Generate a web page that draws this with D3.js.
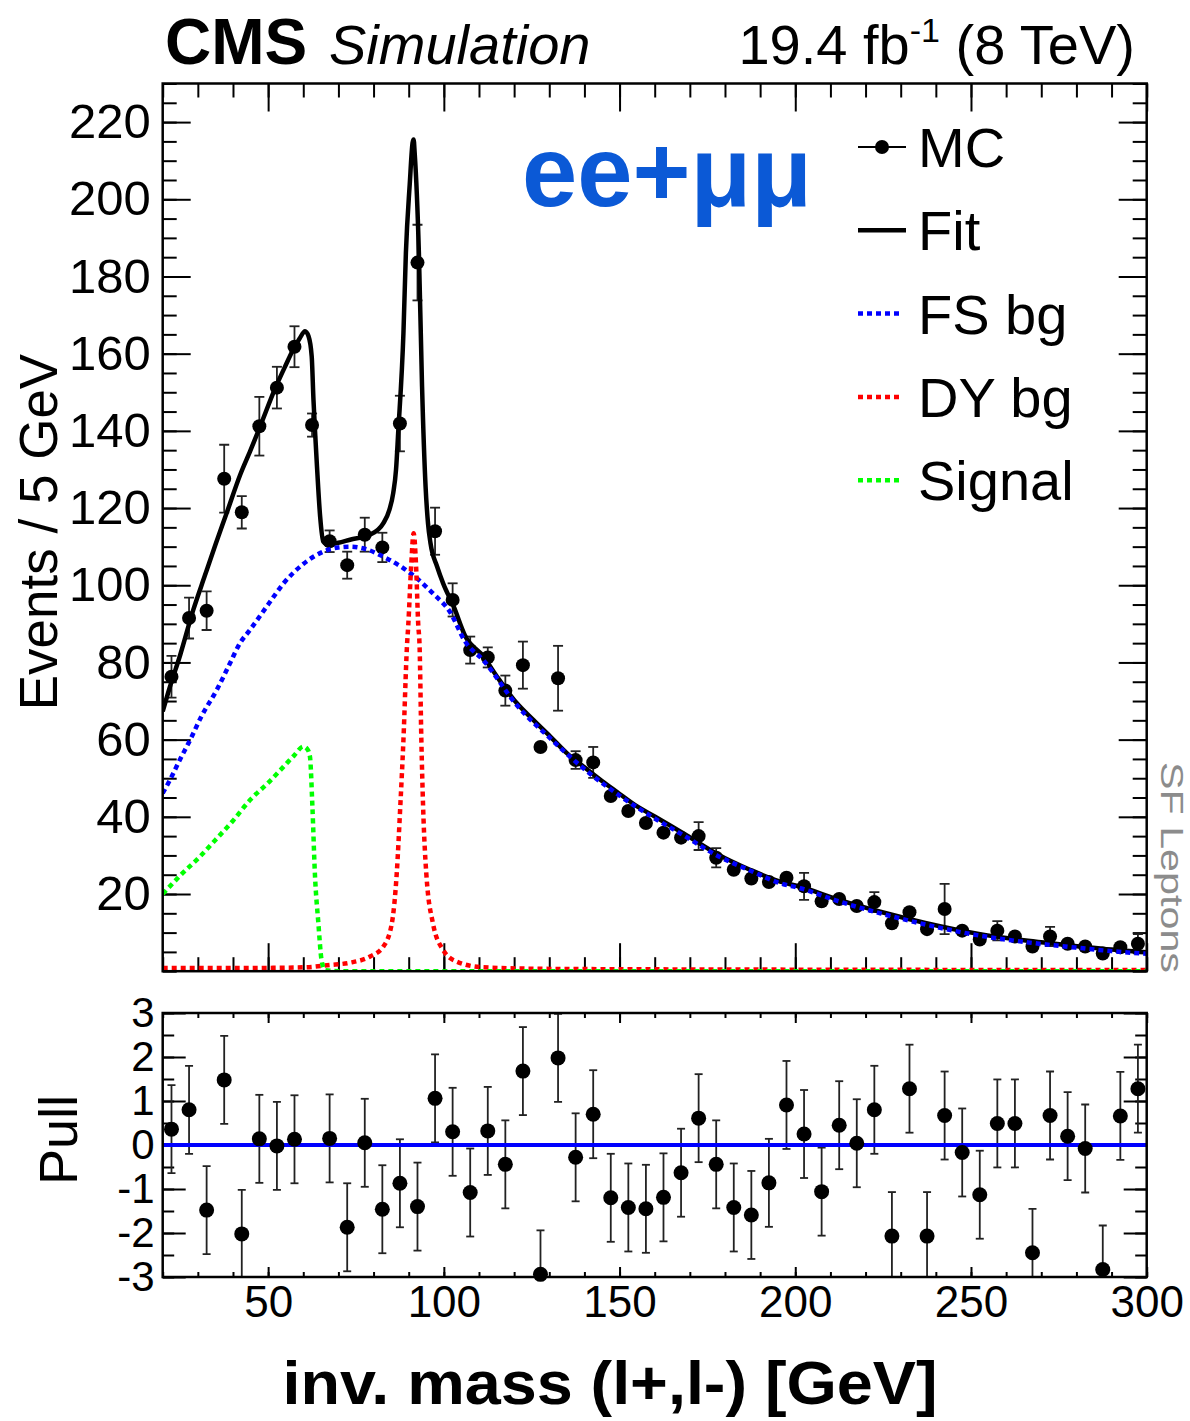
<!DOCTYPE html>
<html>
<head>
<meta charset="utf-8">
<script src="https://cdn.jsdelivr.net/npm/d3@7"></script>
<style>
  body { margin: 0; background: #fff; }
  svg text { font-family: "Liberation Sans", Arial, Helvetica, sans-serif; }
</style>
</head>
<body>
<svg id="chart" width="1190" height="1421"></svg>
<script>
// MC histogram, 5 GeV bins
const mcMass = [22.5, 27.5, 32.5, 37.5, 42.5, 47.5, 52.5, 57.5, 62.5, 67.5, 72.5, 77.5, 82.5, 87.5,
  92.5, 97.5, 102.5, 107.5, 112.5, 117.5, 122.5, 127.5, 132.5, 137.5, 142.5, 147.5, 152.5, 157.5,
  162.5, 167.5, 172.5, 177.5, 182.5, 187.5, 192.5, 197.5, 202.5, 207.5, 212.5, 217.5, 222.5, 227.5,
  232.5, 237.5, 242.5, 247.5, 252.5, 257.5, 262.5, 267.5, 272.5, 277.5, 282.5, 287.5, 292.5, 297.5];
const mcEvents = [76.3, 91.5, 93.4, 127.6, 118.9, 141.2, 151.2, 161.8, 141.5, 111.4, 105.2, 113.1, 109.8, 141.9,
  183.6, 114.0, 96.2, 83.2, 81.3, 72.7, 79.3, 58.1, 75.9, 54.7, 54.1, 45.4, 41.5, 38.4,
  35.9, 34.6, 35.0, 29.4, 26.3, 24.0, 23.1, 24.2, 22.0, 18.1, 18.7, 16.9, 17.9, 12.4,
  15.3, 10.9, 16.1, 10.5, 8.2, 10.5, 9.0, 6.4, 9.0, 7.1, 6.4, 4.6, 6.2, 7.1];
const mcErrors = [5.4, 5.3, 5.0, 8.8, 4.2, 7.6, 5.4, 5.3, 3.0, 2.8, 3.5, 4.4, 3.8, 7.2,
  9.8, 6.1, 4.3, 3.5, 2.6, 3.9, 6.1, 1.5, 8.4, 2.3, 4.0, 1.5, 1.5, 1.5,
  1.5, 1.5, 3.6, 2.5, 1.5, 1.5, 1.5, 1.8, 3.5, 1.5, 1.5, 1.5, 2.6, 1.5,
  1.5, 1.5, 6.5, 1.5, 1.5, 2.5, 1.5, 1.5, 2.5, 1.5, 1.5, 1.5, 1.5, 2.5];

// fit curves, sampled off the plot
const fitMass = [20, 22, 25, 28.7, 32, 35, 38.2, 42, 45, 47.7, 52, 55, 57.1, 59, 60.5, 61.5, 62.4, 62.9, 63.4,
  63.9, 64.8, 65.7, 67.1, 70, 73.3, 79, 82.8, 84.5, 85.6, 86.4, 87, 88.5, 89.2, 90.3, 91.1, 91.4, 91.7,
  92.9, 93.8, 94.8, 95.5, 96.2, 98.1, 99.8, 102.8, 106, 111.3, 115, 120.8, 125, 130.3, 135, 139.8, 145,
  149.2, 155, 160, 168.2, 177.7, 187.1, 195.7, 201.4, 212, 224.2, 237, 252.6, 265, 281.1, 290, 300];
const fitValue = [67.3, 73.5, 82, 93.6, 102.5, 110.5, 118.7, 128.5, 135, 141.1, 151, 157, 161, 164, 165.8, 164.5, 159.3, 148.1, 139,
  130.8, 117.8, 111.3, 110.5, 111, 111.8, 113.1, 116.1, 119.5, 123.9, 130, 139.4, 165.3, 186.1, 204, 214.6, 215.5, 212,
  186.1, 151.5, 125.6, 116, 110.9, 104.8, 100.5, 94.5, 87, 81.5, 76.5, 69.4, 65.5, 60.8, 56.5, 53, 49.3,
  46.5, 42.7, 40.1, 35.7, 30.4, 26.3, 23.2, 21.9, 18.6, 15.4, 12.5, 9.6, 8.0, 6.4, 5.6, 4.9];

const fsMass = [20, 22.1, 25, 27.8, 31, 35.4, 39, 42, 44.9, 50, 54.4, 60, 65.7, 70, 73.3, 78, 82.8, 87.5, 92.3,
  97, 101.8, 106, 111.3, 120.8, 130.3, 139.8, 149.2, 158.7, 168.2, 177.7, 187.1, 195.7, 201.4, 212, 224.2,
  237, 252.6, 265, 281.1, 290, 300];
const fsValue = [46.1, 49.6, 55, 59.9, 66, 72.9, 79.5, 85, 88.5, 95, 100.5, 105.5, 108.7, 109.8, 110, 109.3, 107.4, 105, 101.8,
  97.8, 93, 85.5, 80.5, 68.9, 60.3, 52.5, 46, 40.3, 35.2, 30, 26.1, 22.8, 21.5, 18.2, 15.0,
  12.1, 9.2, 7.6, 6.0, 5.2, 4.5];

const dyMass = [20, 40, 60, 67.5, 73.3, 79, 82.8, 85.2, 86.6, 87.6, 88.5, 89.5, 89.9, 90.7, 91.4, 92.1, 92.7,
  93.1, 93.6, 94.1, 95, 96.9, 99.8, 103.6, 111.2, 130, 200, 300];
const dyValue = [0.8, 0.8, 1.0, 1.6, 2.2, 3.8, 6.4, 12.4, 25.4, 42.6, 59.9, 84.1, 90, 105, 113.5, 105, 90,
  84.1, 59.9, 42.6, 25.4, 12.4, 5.5, 2.5, 1.0, 0.6, 0.4, 0.3];

const sigMass = [20, 25, 30.6, 35, 40, 44.9, 50, 54.4, 57.5, 60, 61.2, 61.9, 62.6, 63.3, 64.3, 65.2, 66.2, 70, 300];
const sigValue = [20, 24.8, 29.7, 34, 39, 44.4, 48.8, 53, 56, 58.2, 57.5, 55.6, 42.6, 25.4, 12.4, 2.9, 0.3, 0, 0];

// pulls (the 62.5 GeV bin is off scale)
const pullMass = [22.5, 27.5, 32.5, 37.5, 42.5, 47.5, 52.5, 57.5, 67.5, 72.5, 77.5, 82.5, 87.5,
  92.5, 97.5, 102.5, 107.5, 112.5, 117.5, 122.5, 127.5, 132.5, 137.5, 142.5, 147.5, 152.5, 157.5,
  162.5, 167.5, 172.5, 177.5, 182.5, 187.5, 192.5, 197.5, 202.5, 207.5, 212.5, 217.5, 222.5, 227.5,
  232.5, 237.5, 242.5, 247.5, 252.5, 257.5, 262.5, 267.5, 272.5, 277.5, 282.5, 287.5, 292.5, 297.5];
const pullValue = [0.36, 0.8, -1.48, 1.48, -2.02, 0.14, -0.02, 0.13, 0.15, -1.87, 0.05, -1.46, -0.87,
  -1.4, 1.06, 0.3, -1.08, 0.32, -0.44, 1.68, -2.94, 1.98, -0.28, 0.7, -1.2, -1.42, -1.45,
  -1.19, -0.63, 0.61, -0.44, -1.42, -1.59, -0.86, 0.91, 0.25, -1.06, 0.45, 0.04, 0.8, -2.07,
  1.28, -2.07, 0.67, -0.17, -1.13, 0.49, 0.49, -2.45, 0.67, 0.2, -0.08, -2.83, 0.66, 1.28];

const massTicks = [50, 100, 150, 200, 250, 300];
const eventTicks = [20, 40, 60, 80, 100, 120, 140, 160, 180, 200, 220];
const pullTicks = [-3, -2, -1, 0, 1, 2, 3];

const legendItems = [
  { label: "MC", kind: "marker" },
  { label: "Fit", kind: "line", color: "#000" },
  { label: "FS bg", kind: "dots", color: "#0000ff" },
  { label: "DY bg", kind: "dots", color: "#ff0000" },
  { label: "Signal", kind: "dots", color: "#00ff00" }
];

const svg = d3.select("#chart");

const left = 162.7, right = 1146.7;
const x = d3.scaleLinear().domain([20, 300]).range([left, right]);
const y = d3.scaleLinear().domain([0, 230]).range([971.2, 83.5]);
const yPull = d3.scaleLinear().domain([-3, 3]).range([1277, 1013]);

const defs = svg.append("defs");
defs.append("clipPath").attr("id", "clipTop").append("rect")
  .attr("x", left).attr("y", y(230)).attr("width", right - left).attr("height", y(0) - y(230));
defs.append("clipPath").attr("id", "clipPull").append("rect")
  .attr("x", left).attr("y", yPull(3)).attr("width", right - left).attr("height", yPull(-3) - yPull(3));

// helper: ticks pointing inside the frame
function ticks(axis, g, size, values, labels) {
  g.call(axis.tickValues(values).tickSize(-size).tickFormat(labels ? (d => String(d)) : ""));
  g.select(".domain").remove();
  g.selectAll(".tick line").attr("stroke", "#000").attr("stroke-width", 2);
  return g;
}

function styleLabels(g, size) {
  g.attr("font-family", null).attr("font-size", null);
  g.selectAll("text").attr("font-size", size).attr("fill", "#000");
}

// ---- top panel ----
const mainPanel = svg.append("g");

const minorMass = d3.range(20, 301, 10);
const minorEv = d3.range(0, 231, 5);

ticks(d3.axisLeft(y), mainPanel.append("g").attr("transform", `translate(${left},0)`), 14, minorEv, false);
const yl = ticks(d3.axisLeft(y).tickPadding(12), mainPanel.append("g").attr("transform", `translate(${left},0)`), 28, eventTicks, true);
styleLabels(yl, 49);
ticks(d3.axisRight(y), mainPanel.append("g").attr("transform", `translate(${right},0)`), 14, minorEv, false);
ticks(d3.axisRight(y), mainPanel.append("g").attr("transform", `translate(${right},0)`), 28, eventTicks, false);
ticks(d3.axisBottom(x), mainPanel.append("g").attr("transform", `translate(0,${y(0)})`), 14, minorMass, false);
ticks(d3.axisBottom(x), mainPanel.append("g").attr("transform", `translate(0,${y(0)})`), 28, massTicks, false);
ticks(d3.axisTop(x), mainPanel.append("g").attr("transform", `translate(0,${y(230)})`), 14, minorMass, false);
ticks(d3.axisTop(x), mainPanel.append("g").attr("transform", `translate(0,${y(230)})`), 28, massTicks, false);

// MC points
const mc = mcMass.map((m, i) => ({ m: m, v: mcEvents[i], e: mcErrors[i] }));
const pts = mainPanel.append("g").attr("clip-path", "url(#clipTop)");
const bars = mc.filter(d => y(d.v - d.e) - y(d.v) > 7.5);
pts.selectAll("line.err").data(bars).enter().append("line")
  .attr("x1", d => x(d.m)).attr("x2", d => x(d.m))
  .attr("y1", d => y(d.v - d.e)).attr("y2", d => y(d.v + d.e))
  .attr("stroke", "#222").attr("stroke-width", 1.8);
[-1, 1].forEach(s => {
  pts.selectAll(null).data(bars).enter().append("line")
    .attr("x1", d => x(d.m) - 5).attr("x2", d => x(d.m) + 5)
    .attr("y1", d => y(d.v + s * d.e)).attr("y2", d => y(d.v + s * d.e))
    .attr("stroke", "#222").attr("stroke-width", 1.8);
});
pts.selectAll("circle").data(mc).enter().append("circle")
  .attr("cx", d => x(d.m)).attr("cy", d => y(d.v)).attr("r", 7).attr("fill", "#000");

// curves
const line = d3.line().x(d => x(d[0])).y(d => y(d[1])).curve(d3.curveMonotoneX);
const curves = mainPanel.append("g").attr("clip-path", "url(#clipTop)").attr("fill", "none");
const zip = (a, b) => a.map((m, i) => [m, b[i]]);
curves.append("path").attr("d", line(zip(fitMass, fitValue)))
  .attr("stroke", "#000").attr("stroke-width", 4.5);
curves.append("path").attr("d", line(zip(fsMass, fsValue)))
  .attr("stroke", "#0000ff").attr("stroke-width", 4.5).attr("stroke-dasharray", "5,4");
curves.append("path").attr("d", line(zip(dyMass, dyValue)))
  .attr("stroke", "#ff0000").attr("stroke-width", 4.5).attr("stroke-dasharray", "5,4");
curves.append("path").attr("d", line(zip(sigMass, sigValue)))
  .attr("stroke", "#00ff00").attr("stroke-width", 4.5).attr("stroke-dasharray", "5,4");

mainPanel.append("rect").attr("x", left).attr("y", y(230)).attr("width", right - left).attr("height", y(0) - y(230))
  .attr("fill", "none").attr("stroke", "#000").attr("stroke-width", 2.5);

// legend
const leg = svg.append("g");
legendItems.forEach((d, i) => {
  const cy = 147 + i * 83.3;
  const g = leg.append("g");
  if (d.kind === "marker") {
    g.append("line").attr("x1", 858).attr("x2", 906).attr("y1", cy).attr("y2", cy)
      .attr("stroke", "#000").attr("stroke-width", 2);
    g.append("circle").attr("cx", 882).attr("cy", cy).attr("r", 7).attr("fill", "#000");
  } else if (d.kind === "line") {
    g.append("line").attr("x1", 858).attr("x2", 906).attr("y1", cy).attr("y2", cy)
      .attr("stroke", d.color).attr("stroke-width", 4.5);
  } else {
    g.append("line").attr("x1", 858).attr("x2", 903).attr("y1", cy).attr("y2", cy)
      .attr("stroke", d.color).attr("stroke-width", 4.5).attr("stroke-dasharray", "5,4");
  }
  g.append("text").attr("x", 918).attr("y", cy + 20)
    .attr("font-size", 56).text(d.label);
});

svg.append("text").attr("x", 522).attr("y", 206)
  .attr("font-family", "'Open Sans', sans-serif").attr("font-weight", 700)
  .attr("font-size", 100).attr("fill", "#0b59d6")
  .attr("textLength", 290).attr("lengthAdjust", "spacingAndGlyphs")
  .text("ee+μμ");

// ---- pull panel ----
const pullPanel = svg.append("g");
const minorPull = d3.range(-3, 3.01, 0.5);

ticks(d3.axisLeft(yPull), pullPanel.append("g").attr("transform", `translate(${left},0)`), 11.5, minorPull, false);
const pl = ticks(d3.axisLeft(yPull).tickPadding(8), pullPanel.append("g").attr("transform", `translate(${left},0)`), 23, pullTicks, true);
styleLabels(pl, 42);
ticks(d3.axisRight(yPull), pullPanel.append("g").attr("transform", `translate(${right},0)`), 11.5, minorPull, false);
ticks(d3.axisRight(yPull), pullPanel.append("g").attr("transform", `translate(${right},0)`), 23, pullTicks, false);
ticks(d3.axisBottom(x), pullPanel.append("g").attr("transform", `translate(0,${yPull(-3)})`), 5, minorMass, false);
const xl = ticks(d3.axisBottom(x).tickPadding(9), pullPanel.append("g").attr("transform", `translate(0,${yPull(-3)})`), 10, massTicks, true);
styleLabels(xl, 44);
ticks(d3.axisTop(x), pullPanel.append("g").attr("transform", `translate(0,${yPull(3)})`), 5, minorMass, false);
ticks(d3.axisTop(x), pullPanel.append("g").attr("transform", `translate(0,${yPull(3)})`), 10, massTicks, false);

const pd = pullMass.map((m, i) => ({ m: m, v: pullValue[i] }));
const pbars = pullPanel.append("g").attr("clip-path", "url(#clipPull)");
pbars.selectAll("line.err").data(pd).enter().append("line")
  .attr("x1", d => x(d.m)).attr("x2", d => x(d.m))
  .attr("y1", d => yPull(d.v - 1)).attr("y2", d => yPull(d.v + 1))
  .attr("stroke", "#222").attr("stroke-width", 1.8);
[-1, 1].forEach(s => {
  pbars.selectAll(null).data(pd).enter().append("line")
    .attr("x1", d => x(d.m) - 4).attr("x2", d => x(d.m) + 4)
    .attr("y1", d => yPull(d.v + s)).attr("y2", d => yPull(d.v + s))
    .attr("stroke", "#222").attr("stroke-width", 1.8);
});
pbars.append("line").attr("x1", left).attr("x2", right).attr("y1", yPull(0)).attr("y2", yPull(0))
  .attr("stroke", "#0000ff").attr("stroke-width", 4);
pullPanel.selectAll("circle").data(pd).enter().append("circle")
  .attr("cx", d => x(d.m)).attr("cy", d => yPull(d.v)).attr("r", 7.5).attr("fill", "#000");

pullPanel.append("rect").attr("x", left).attr("y", yPull(3)).attr("width", right - left).attr("height", yPull(-3) - yPull(3))
  .attr("fill", "none").attr("stroke", "#000").attr("stroke-width", 2.5);

// ---- titles ----
svg.append("text").attr("x", 165).attr("y", 64).attr("font-size", 64).attr("font-weight", 700).text("CMS");
svg.append("text").attr("x", 329).attr("y", 64).attr("font-size", 56).attr("font-style", "italic").text("Simulation");
const lumi = svg.append("text").attr("x", 1135).attr("y", 64).attr("font-size", 56).attr("text-anchor", "end");
lumi.append("tspan").text("19.4 fb");
lumi.append("tspan").attr("font-size", 34).attr("dy", -22).text("-1");
lumi.append("tspan").attr("dy", 22).text(" (8 TeV)");

svg.append("text").attr("transform", "translate(57,532) rotate(-90)")
  .attr("text-anchor", "middle").attr("font-size", 53).text("Events / 5 GeV");
svg.append("text").attr("transform", "translate(77,1140) rotate(-90)")
  .attr("text-anchor", "middle").attr("font-size", 54).text("Pull");
svg.append("text").attr("transform", "translate(1161,762) rotate(90)")
  .attr("font-size", 31).attr("fill", "#8c8c8c")
  .attr("textLength", 211).attr("lengthAdjust", "spacingAndGlyphs")
  .text("SF  Leptons");
svg.append("text").attr("x", 610).attr("y", 1404).attr("text-anchor", "middle")
  .attr("font-family", "'Open Sans', sans-serif").attr("font-weight", 700).attr("font-size", 62)
  .attr("textLength", 655).attr("lengthAdjust", "spacingAndGlyphs")
  .text("inv. mass (l+,l-) [GeV]");
</script>
</body>
</html>
